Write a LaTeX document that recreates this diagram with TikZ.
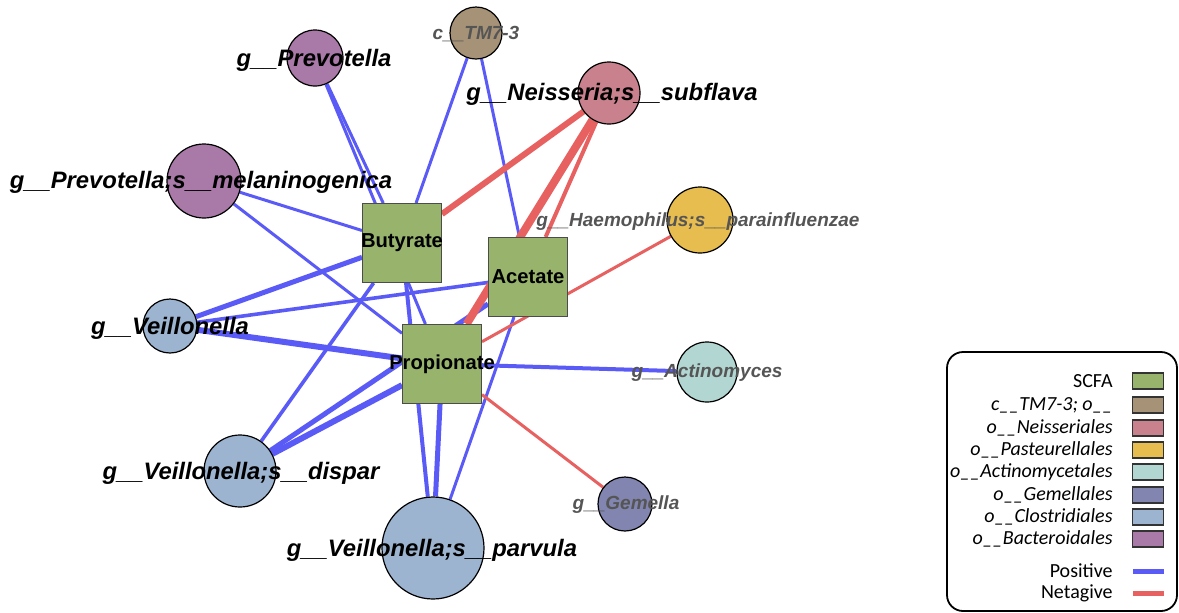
\documentclass[tikz,border=0pt]{standalone}
\usepackage{fontspec}
\setmainfont{Liberation Sans}
\newfontfamily\calfont{Carlito}
\usetikzlibrary{backgrounds}
\definecolor{scfaGreen}{HTML}{97B36C}
\definecolor{tmBrown}{HTML}{A69377}
\definecolor{neisPink}{HTML}{C9818D}
\definecolor{pastGold}{HTML}{E8BD4F}
\definecolor{actiTeal}{HTML}{B2D6D1}
\definecolor{gemeBlue}{HTML}{8185AF}
\definecolor{closBlue}{HTML}{9CB4CF}
\definecolor{bactPurple}{HTML}{A979A8}
\definecolor{posBlue}{HTML}{5A5AF6}
\definecolor{negRed}{HTML}{E86161}
\definecolor{lblGrey}{HTML}{555555}
\tikzset{
  taxon/.style    = {circle, draw=black, line width=0.6pt, inner sep=0pt, minimum size=#1},
  scfa/.style     = {rectangle, draw=black!70, line width=0.5pt, fill=scfaGreen,
                     inner sep=0pt, minimum size=39.5pt},
  poslink/.style  = {posBlue, line width=#1},
  neglink/.style  = {negRed, line width=#1},
  blbl/.style     = {font=\fontsize{11.9}{14}\selectfont\bfseries\itshape, inner sep=0pt},
  glbl/.style     = {font=\fontsize{9.5}{11}\selectfont\bfseries\itshape, lblGrey, inner sep=0pt},
  slbl/.style     = {font=\fontsize{10.1}{12}\selectfont\bfseries, inner sep=0pt},
  leglbl/.style   = {font=\calfont\fontsize{10}{12}\selectfont\itshape, anchor=east, inner sep=0pt},
  legbox/.style   = {draw=black!80, line width=0.6pt, minimum width=15.5pt,
                     minimum height=8pt, inner sep=0pt},
}

\begin{document}
\begin{tikzpicture}[x=0.5pt, y=-0.5pt]
  \useasboundingbox (0,0) rectangle (1179,612);

  % SCFA squares
  \node[scfa] (but) at (402,243) {};
  \node[scfa] (ace) at (528,277) {};
  \node[scfa] (pro) at (442,364) {};

  % taxa
  \node[taxon=26pt, fill=tmBrown]    (tm7)  at (476,33)  {};
  \node[taxon=28pt, fill=bactPurple] (prev) at (315,58)  {};
  \node[taxon=31pt, fill=neisPink]   (neis) at (609,93)  {};
  \node[taxon=37pt, fill=bactPurple] (pmel) at (204,181) {};
  \node[taxon=33pt, fill=pastGold]   (haem) at (700,220) {};
  \node[taxon=27pt, fill=closBlue]   (veil) at (170,326) {};
  \node[taxon=30pt, fill=actiTeal]   (acti) at (707,372) {};
  \node[taxon=36pt, fill=closBlue]   (disp) at (240,471) {};
  \node[taxon=51pt, fill=closBlue]   (parv) at (433,548) {};
  \node[taxon=27pt, fill=gemeBlue]   (geme) at (625,504) {};

  \begin{scope}[on background layer]
    \draw[poslink=1.5pt] (tm7) -- (but);
    \draw[poslink=1.5pt] (tm7) -- (ace);
    \draw[poslink=1.5pt] (prev) -- (but);
    \draw[poslink=1.5pt] (prev) -- (pro);
    \draw[poslink=1.5pt] (pmel) -- (but);
    \draw[poslink=1.5pt] (pmel) -- (pro);
    \draw[poslink=2.5pt] (veil) -- (but);
    \draw[poslink=1.8pt] (veil) -- (ace);
    \draw[poslink=3pt]   (veil) -- (pro);
    \draw[poslink=1.8pt] (disp) -- (but);
    \draw[poslink=2.5pt] (disp) -- (ace);
    \draw[poslink=3pt]   (disp) -- (pro);
    \draw[poslink=2pt]   (parv) -- (but);
    \draw[poslink=2.5pt] (parv) -- (pro);
    \draw[poslink=1.5pt] (parv) -- (ace);
    \draw[poslink=2pt]   (pro) -- (acti);
    \draw[neglink=3pt]   (neis) -- (but);
    \draw[neglink=4pt]   (neis) -- (pro);
    \draw[neglink=2pt]   (neis) -- (ace);
    \draw[neglink=1.5pt] (haem) -- (pro);
    \draw[neglink=1.5pt] (pro) -- (geme);
  \end{scope}

  \node[slbl] (butt) at (but) {Butyrate};
  \node[slbl] (acet) at (ace) {Acetate};
  \node[slbl] (prot) at (pro) {Propionate};

  \node[glbl] (tm7t)  at (476,34)  {c\_\_TM7-3};
  \node[blbl] (prevt) at (314,60)  {g\_\_Prevotella};
  \node[blbl] (neist) at (612,94)  {g\_\_Neisseria;s\_\_subflava};
  \node[blbl] (pmelt) at (201,182) {g\_\_Prevotella;s\_\_melaninogenica};
  \node[glbl] (haemt) at (698,222) {g\_\_Haemophilus;s\_\_parainfluenzae};
  \node[blbl] (veilt) at (170,328) {g\_\_Veillonella};
  \node[glbl] (actit) at (707,373) {g\_\_Actinomyces};
  \node[blbl] (dispt) at (241,473) {g\_\_Veillonella;s\_\_dispar};
  \node[blbl] (parvt) at (432,550) {g\_\_Veillonella;s\_\_parvula};
  \node[glbl] (gemet) at (626,505) {g\_\_Gemella};

  % legend
  \draw[line width=0.9pt, rounded corners=8pt] (947,352) rectangle (1177,611);
  \foreach \col/\txt/\yy [count=\i] in {scfaGreen/{\upshape SCFA}/381,
      tmBrown/{c\_\_TM7-3; o\_\_}/405, neisPink/{o\_\_Neisseriales}/428,
      pastGold/{o\_\_Pasteurellales}/450, actiTeal/{o\_\_Actinomycetales}/472,
      gemeBlue/{o\_\_Gemellales}/495, closBlue/{o\_\_Clostridiales}/517,
      bactPurple/{o\_\_Bacteroidales}/539}{
    \node[legbox, fill=\col] (box\i) at (1148,\yy) {};
    \node[leglbl] (leg\i) at (1113,\yy) {\txt};
  }
  \node[leglbl, font=\calfont\fontsize{10}{12}\selectfont] (legpos) at (1113,571) {Positive};
  \node[leglbl, font=\calfont\fontsize{10}{12}\selectfont] (legneg) at (1113,593) {Netagive};
  \coordinate (posa) at (1133,571);
  \coordinate (posb) at (1164,571);
  \coordinate (nega) at (1133,593);
  \coordinate (negb) at (1164,593);
  \draw[poslink=2.5pt] (posa) -- (posb);
  \draw[neglink=2.5pt] (nega) -- (negb);
\end{tikzpicture}
\end{document}
